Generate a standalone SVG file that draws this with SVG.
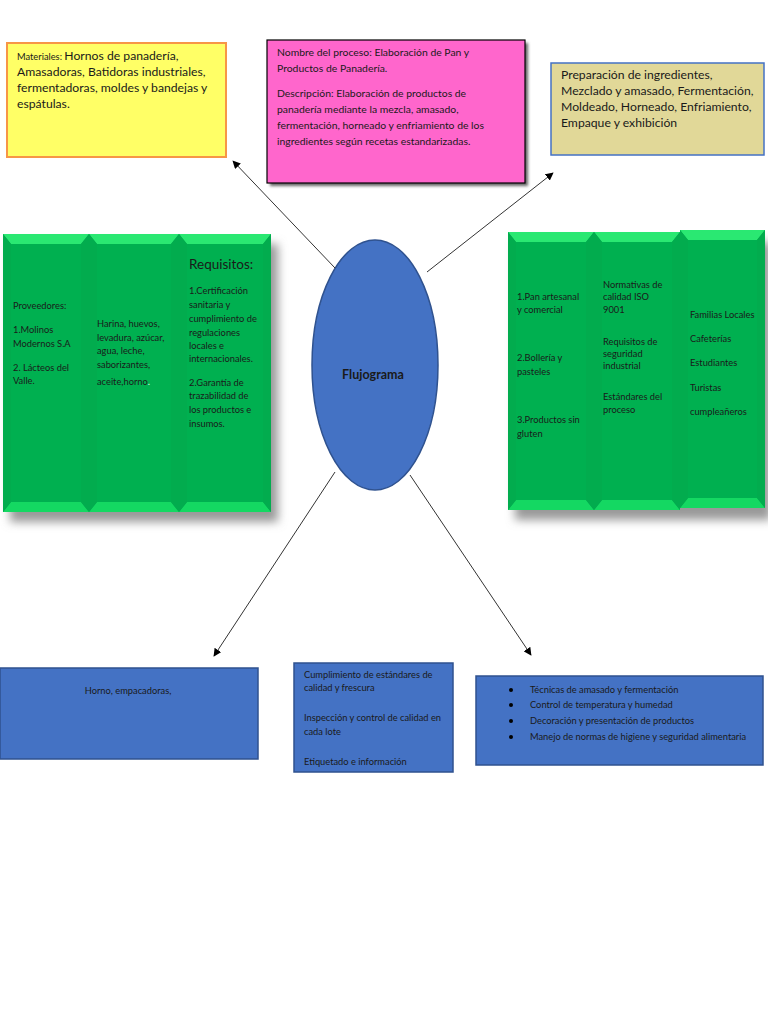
<svg xmlns="http://www.w3.org/2000/svg" width="768" height="1024" viewBox="0 0 768 1024">
<defs>
<style>
text{font-family:Lato,"Open Sans","Liberation Sans",sans-serif;fill:#1a1a1a}
.s9{font-size:9.3px}
.s10{font-size:10.4px}
.s12{font-size:12.2px}
.blue{fill:#4472C4;stroke:#2F528F;stroke-width:1.5}
.col{fill:#00B050}
.bt{fill:#2AE872}
.bb{fill:#14D862}
.bs{fill:#02AC4E}
.conn{stroke:#333;stroke-width:1;fill:none;marker-end:url(#ah)}
</style>
<marker id="ah" viewBox="0 0 10 10" refX="9" refY="5" markerWidth="8" markerHeight="8" orient="auto" markerUnits="userSpaceOnUse">
<path d="M0,0 L10,5 L0,10 z" fill="#000"/>
</marker>
<filter id="sh" x="-20%" y="-20%" width="140%" height="140%"><feGaussianBlur stdDeviation="5"/></filter>
<filter id="psh" x="-10%" y="-10%" width="120%" height="120%"><feGaussianBlur stdDeviation="1.5"/></filter>
</defs>
<rect width="768" height="1024" fill="#fff"/>

<g id="materiales">
<rect x="7" y="43" width="219" height="114" fill="#FFFF66" stroke="#F79646" stroke-width="2"/>
<text x="17" y="60"><tspan class="s9">Materiales: </tspan><tspan class="s12">Hornos de panadería,</tspan></text>
<text class="s12" x="17" y="76">Amasadoras, Batidoras industriales,</text>
<text class="s12" x="17" y="92">fermentadoras, moldes y bandejas y</text>
<text class="s12" x="17" y="108">espátulas.</text>
</g>

<g id="proceso">
<rect x="270" y="43" width="258" height="143" fill="#666" filter="url(#psh)"/>
<rect x="267" y="40" width="258" height="143" fill="#FF66CC" stroke="#000" stroke-width="1.2"/>
<text class="s10" x="277" y="56">Nombre del proceso: Elaboración de Pan y</text>
<text class="s10" x="277" y="72">Productos de Panadería.</text>
<text class="s10" x="277" y="97">Descripción: Elaboración de productos de</text>
<text class="s10" x="277" y="113">panadería mediante la mezcla, amasado,</text>
<text class="s10" x="277" y="129">fermentación, horneado y enfriamiento de los</text>
<text class="s10" x="277" y="145">ingredientes según recetas estandarizadas.</text>
</g>

<g id="etapas">
<rect x="551" y="63" width="213" height="92" fill="#E1D898" stroke="#4472C4" stroke-width="1.5"/>
<text class="s12" x="561" y="79">Preparación de ingredientes,</text>
<text class="s12" x="561" y="95">Mezclado y amasado, Fermentación,</text>
<text class="s12" x="561" y="111">Moldeado, Horneado, Enfriamiento,</text>
<text class="s12" x="561" y="127">Empaque y exhibición</text>
</g>

<g id="panel-izquierdo">
<rect x="10" y="244" width="268" height="278" fill="#999" filter="url(#sh)"/>
<g id="proveedores">
<rect class="col" x="3" y="234" width="86" height="278"/>
<path class="bt" d="M3,234 H89 L81,244 H11 Z"/>
<path class="bb" d="M3,512 H89 L81,502 H11 Z"/>
<path class="bs" d="M3,234 L11,244 V502 L3,512 Z M89,234 L81,244 V502 L89,512 Z"/>
<text class="s9" x="13" y="309">Proveedores:</text>
<text class="s9" x="13" y="333">1.Molinos</text>
<text class="s9" x="13" y="347">Modernos S.A</text>
<text class="s9" x="13" y="371">2.  Lácteos del</text>
<text class="s9" x="13" y="384">Valle.</text>
</g>
<g id="insumos">
<rect class="col" x="89" y="234" width="90" height="278"/>
<path class="bt" d="M89,234 H179 L171,244 H97 Z"/>
<path class="bb" d="M89,512 H179 L171,502 H97 Z"/>
<path class="bs" d="M89,234 L97,244 V502 L89,512 Z M179,234 L171,244 V502 L179,512 Z"/>
<text class="s9" x="97" y="327">Harina, huevos,</text>
<text class="s9" x="97" y="341">levadura, azúcar,</text>
<text class="s9" x="97" y="354">agua, leche,</text>
<text class="s9" x="97" y="368">saborizantes,</text>
<text class="s9" x="97" y="385">aceite,horno<tspan fill="#e8ffe8">.</tspan></text>
</g>
<g id="requisitos">
<rect class="col" x="179" y="234" width="92" height="278"/>
<path class="bt" d="M179,234 H271 L263,244 H187 Z"/>
<path class="bb" d="M179,512 H271 L263,502 H187 Z"/>
<path class="bs" d="M179,234 L187,244 V502 L179,512 Z M271,234 L263,244 V502 L271,512 Z"/>
<text x="189" y="269" style="font-size:13.5px">Requisitos:</text>
<text class="s9" x="189" y="294">1.Certificación</text>
<text class="s9" x="189" y="308">sanitaria y</text>
<text class="s9" x="189" y="322">cumplimiento de</text>
<text class="s9" x="189" y="336">regulaciones</text>
<text class="s9" x="189" y="349">locales e</text>
<text class="s9" x="189" y="362">internacionales.</text>
<text class="s9" x="189" y="386">2.Garantía de</text>
<text class="s9" x="189" y="399">trazabilidad de</text>
<text class="s9" x="189" y="413">los productos e</text>
<text class="s9" x="189" y="427">insumos.</text>
</g>
</g>

<g id="panel-derecho">
<rect x="515" y="242" width="256" height="278" fill="#999" filter="url(#sh)"/>
<g id="productos">
<rect class="col" x="508" y="232" width="86" height="278"/>
<path class="bt" d="M508,232 H594 L586,242 H516 Z"/>
<path class="bb" d="M508,510 H594 L586,500 H516 Z"/>
<path class="bs" d="M508,232 L516,242 V500 L508,510 Z M594,232 L586,242 V500 L594,510 Z"/>
<text class="s9" x="517" y="300">1.Pan artesanal</text>
<text class="s9" x="517" y="313">y comercial</text>
<text class="s9" x="517" y="361">2.Bollería y</text>
<text class="s9" x="517" y="375">pasteles</text>
<text class="s9" x="517" y="423">3.Productos sin</text>
<text class="s9" x="517" y="437">gluten</text>
</g>
<g id="normativas">
<rect class="col" x="594" y="232" width="86" height="278"/>
<path class="bt" d="M594,232 H680 L672,242 H602 Z"/>
<path class="bb" d="M594,510 H680 L672,500 H602 Z"/>
<path class="bs" d="M594,232 L602,242 V500 L594,510 Z M680,232 L672,242 V500 L680,510 Z"/>
<text class="s9" x="603" y="288">Normativas de</text>
<text class="s9" x="603" y="300">calidad ISO</text>
<text class="s9" x="603" y="313">9001</text>
<text class="s9" x="603" y="345">Requisitos de</text>
<text class="s9" x="603" y="357">seguridad</text>
<text class="s9" x="603" y="369">industrial</text>
<text class="s9" x="603" y="400">Estándares del</text>
<text class="s9" x="603" y="413">proceso</text>
</g>
<g id="clientes">
<rect class="col" x="680" y="230" width="85" height="278"/>
<path class="bt" d="M680,230 H765 L757,240 H688 Z"/>
<path class="bb" d="M680,508 H765 L757,498 H688 Z"/>
<path class="bs" d="M680,230 L688,240 V498 L680,508 Z M765,230 L757,240 V498 L765,508 Z"/>
<text class="s9" x="690" y="318">Familias Locales</text>
<text class="s9" x="690" y="342">Cafeterías</text>
<text class="s9" x="690" y="366">Estudiantes</text>
<text class="s9" x="690" y="391">Turistas</text>
<text class="s9" x="690" y="415">cumpleañeros</text>
</g>
</g>

<g id="flujograma">
<ellipse class="blue" cx="375" cy="365" rx="63" ry="125"/>
<text x="373" y="379" text-anchor="middle" style="font-size:12.5px;font-weight:bold">Flujograma</text>
</g>

<g id="equipos">
<rect class="blue" x="0" y="668" width="258" height="91"/>
<text class="s9" x="128" y="694" text-anchor="middle">Horno, empacadoras,</text>
</g>

<g id="calidad">
<rect class="blue" x="294" y="663" width="159" height="109"/>
<text class="s9" x="304" y="678">Cumplimiento de estándares de</text>
<text class="s9" x="304" y="691">calidad y  frescura</text>
<text class="s9" x="304" y="721">Inspección y control de calidad en</text>
<text class="s9" x="304" y="735">cada lote</text>
<text class="s9" x="304" y="765">Etiquetado e información</text>
</g>

<g id="competencias">
<rect class="blue" x="476" y="676" width="287" height="89"/>
<g fill="#000"><circle cx="511" cy="690" r="2"/><circle cx="511" cy="705" r="2"/><circle cx="511" cy="721" r="2"/><circle cx="511" cy="737" r="2"/></g>
<text class="s9" x="530" y="693">Técnicas de amasado y fermentación</text>
<text class="s9" x="530" y="708">Control de temperatura y humedad</text>
<text class="s9" x="530" y="724">Decoración y presentación de productos</text>
<text class="s9" x="530" y="740">Manejo de normas de higiene y seguridad alimentaria</text>
</g>

<g id="conectores">
<line class="conn" x1="335" y1="268" x2="233" y2="161"/>
<line class="conn" x1="427" y1="272" x2="553" y2="173"/>
<line class="conn" x1="335" y1="472" x2="214" y2="656"/>
<line class="conn" x1="410" y1="475" x2="531" y2="655"/>
</g>
</svg>
